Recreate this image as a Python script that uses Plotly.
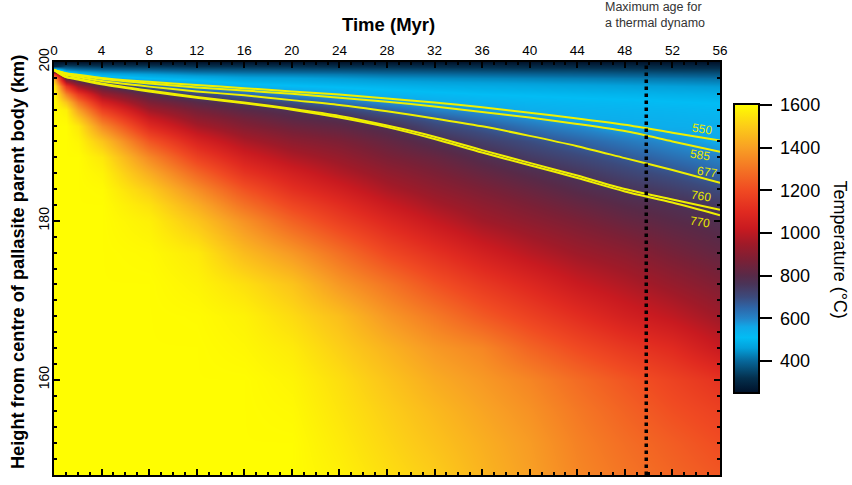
import plotly.graph_objects as go

# ---------------- data ----------------
time_myr = [0, 1, 2, 4, 8, 12, 16, 20, 24, 28, 32, 36, 40, 44, 48, 52, 56]
depth_km = [0, 0.5, 1, 1.5, 2, 3, 4, 5, 6, 7, 8, 10, 12, 14, 16, 18, 20,
            24, 28, 32, 36, 40, 44, 48, 52]
height_km = [200 - d for d in depth_km]

# temperature (deg C) columns, one per time, ordered by depth above
temp_t0 = [260, 300, 600, 1150, 1420, 1575] + [1600] * 19
temp_t1 = [260, 350, 450, 610, 806, 1142, 1335, 1482, 1572, 1589, 1600] + [1600] * 14
temp_t2 = [260, 340, 430, 520, 720, 950, 1152, 1301, 1409, 1492, 1557, 1586, 1600] + [1600] * 12
temp_t4 = [260, 330, 410, 480, 550, 800, 940, 1062, 1174, 1269, 1355, 1483, 1557, 1582, 1596] + [1600] * 10
temp_t8 = [260, 330, 400, 460, 510, 655, 797, 877, 955, 1029, 1097, 1229, 1347, 1430, 1499, 1546, 1574, 1594] + [1600] * 7
temp_t12 = [260, 320, 385, 440, 490, 565, 712, 800, 862, 912, 964, 1070, 1170, 1268, 1357, 1429, 1485, 1562, 1582, 1597] + [1600] * 5
temp_t16 = [260, 320, 380, 430, 470, 530, 648, 750, 806, 853, 890, 970, 1053, 1131, 1218, 1294, 1368, 1462, 1540, 1578, 1589, 1600, 1600, 1600, 1600]
temp_t20 = [260, 320, 375, 425, 465, 515, 585, 690, 770, 805, 842, 909, 978, 1052, 1116, 1188, 1257, 1384, 1481, 1530, 1563, 1583, 1593, 1600, 1600]
temp_t24 = [260, 315, 370, 420, 455, 505, 545, 630, 717, 779, 814, 875, 929, 983, 1047, 1111, 1168, 1291, 1383, 1469, 1506, 1538, 1551, 1564, 1576]
temp_t28 = [260, 315, 365, 410, 445, 495, 530, 585, 662, 721, 773, 826, 871, 921, 970, 1029, 1087, 1194, 1303, 1382, 1444, 1482, 1505, 1521, 1537]
temp_t32 = [260, 310, 360, 405, 440, 485, 520, 548, 605, 670, 709, 776, 832, 874, 916, 962, 1015, 1121, 1218, 1311, 1383, 1426, 1457, 1478, 1499]
temp_t36 = [260, 310, 355, 400, 435, 480, 510, 535, 575, 621, 673, 731, 783, 829, 872, 913, 951, 1053, 1148, 1237, 1342, 1385, 1412, 1434, 1447]
temp_t40 = [260, 305, 350, 395, 430, 475, 505, 528, 545, 585, 625, 694, 740, 788, 831, 871, 909, 993, 1087, 1172, 1263, 1339, 1367, 1389, 1399]
temp_t44 = [260, 305, 350, 390, 425, 470, 500, 522, 537, 548, 590, 657, 708, 753, 791, 832, 871, 945, 1024, 1111, 1200, 1281, 1311, 1331, 1343]
temp_t48 = [260, 305, 345, 385, 420, 465, 495, 518, 532, 542, 551, 620, 674, 717, 760, 797, 832, 909, 978, 1052, 1145, 1227, 1259, 1285, 1302]
temp_t52 = [260, 300, 340, 380, 415, 460, 490, 512, 528, 538, 545, 585, 636, 686, 731, 774, 802, 862, 929, 1005, 1100, 1177, 1211, 1245, 1265]
temp_t56 = [260, 300, 340, 375, 410, 455, 485, 507, 522, 533, 542, 552, 602, 649, 697, 745, 777, 822, 880, 944, 1022, 1127, 1171, 1204, 1230]

# isotherm contour lines: height (km) at each time in time_myr
iso_550 = [199.0, 198.6, 198.4, 198.0, 197.5, 197.1, 196.7, 196.3, 195.9, 195.4, 194.9, 194.3, 193.6, 192.9, 192.1, 191.1, 190.1]
iso_585 = [199.0, 198.55, 198.3, 197.9, 197.3, 196.8, 196.4, 196.0, 195.5, 195.0, 194.4, 193.7, 193.0, 192.2, 191.3, 190.0, 188.7]
iso_677 = [199.0, 198.4, 198.1, 197.6, 196.9, 196.3, 195.8, 195.2, 194.6, 193.8, 192.9, 191.9, 190.7, 189.4, 187.9, 186.4, 184.8]
iso_760 = [199.0, 198.15, 197.9, 197.3, 196.4, 195.6, 194.9, 194.1, 193.2, 192.0, 190.6, 188.9, 187.3, 185.7, 184.0, 182.7, 181.4]
iso_770 = [199.0, 198.1, 197.8, 197.2, 196.3, 195.5, 194.8, 194.0, 193.0, 191.8, 190.3, 188.6, 187.0, 185.4, 183.7, 182.3, 180.7]
iso_levels = ["550", "585", "677", "760", "770"]

dynamo_max_age = 49.8  # Myr

x_ticks = list(range(0, 57, 4))
y_ticks = [160, 180, 200]
cbar_ticks = [400, 600, 800, 1000, 1200, 1400, 1600]

# ---------------- styling ----------------
T_MIN, T_MAX = 250, 1605
color_stops = [
    (250, "#001028"), (320, "#04304e"), (400, "#07679a"), (460, "#03a0da"),
    (510, "#02bcf4"), (560, "#10a8e8"), (600, "#2484c8"), (650, "#2e66a8"),
    (700, "#3c4a7c"), (760, "#4a3458"), (800, "#582a48"), (870, "#7a2036"),
    (950, "#a01a28"), (1020, "#c81a20"), (1100, "#e02a20"), (1200, "#f04a22"),
    (1300, "#f47424"), (1400, "#f8a024"), (1500, "#fccc18"), (1605, "#ffff00"),
]
colorscale = [[(v - T_MIN) / (T_MAX - T_MIN), c] for v, c in color_stops]

columns = [temp_t0, temp_t1, temp_t2, temp_t4, temp_t8, temp_t12, temp_t16,
           temp_t20, temp_t24, temp_t28, temp_t32, temp_t36, temp_t40,
           temp_t44, temp_t48, temp_t52, temp_t56]
z = [list(row) for row in zip(*columns)]  # rows by height

FONT = "Arial, Liberation Sans, sans-serif"
W, H = 852, 485
L, R, T, B = 54, 132, 62, 8
PW, PH = W - L - R, H - T - B

def px_x(px):
    return (px - L) / PW

def px_y(py):
    return (H - B - py) / PH

fig = go.Figure()
fig.add_trace(go.Heatmap(
    x=time_myr, y=height_km, z=z, zsmooth="best",
    colorscale=colorscale, zmin=T_MIN, zmax=T_MAX,
    colorbar=dict(
        x=px_x(734), xanchor="left", xpad=0,
        y=px_y(249.5), yanchor="middle", ypad=0,
        len=289, lenmode="pixels", thickness=25,
        outlinewidth=2, outlinecolor="black",
        tickvals=cbar_ticks,
        ticktext=["\u00a0" + str(v) for v in cbar_ticks],
        ticks="outside", ticklen=12, tickwidth=2,
        tickcolor="black",
        tickfont=dict(family=FONT, size=18, color="black"),
    ),
    hoverinfo="skip",
))

for iso in [iso_550, iso_585, iso_677, iso_760, iso_770]:
    fig.add_trace(go.Scatter(
        x=time_myr, y=iso, mode="lines",
        line=dict(color="#f0f000", width=2, shape="spline", smoothing=0.8),
        showlegend=False, hoverinfo="skip",
    ))

fig.add_shape(type="line", xref="x", yref="paper", x0=dynamo_max_age,
              x1=dynamo_max_age, y0=0, y1=1,
              line=dict(color="black", width=3.5, dash="dot"))

label_pos = [(54.46, 191.6), (54.3, 188.3), (54.9, 186.1), (54.4, 183.1), (54.3, 179.9)]
for lev, (lx, ly) in zip(iso_levels, label_pos):
    fig.add_annotation(x=lx, y=ly, xref="x", yref="y", text=lev,
                       showarrow=False, textangle=9,
                       font=dict(family=FONT, size=12, color="#e8e800"))

fig.add_annotation(x=px_x(388), y=px_y(24), xref="paper", yref="paper",
                   xanchor="center", yanchor="middle",
                   text="<b>Time (Myr)</b>", showarrow=False,
                   font=dict(family=FONT, size=18.5, color="black"))
fig.add_annotation(x=px_x(18), y=px_y(263), xref="paper", yref="paper",
                   xanchor="center", yanchor="middle",
                   text="<b>Height from centre of pallasite parent body (km)</b>",
                   showarrow=False, textangle=-90,
                   font=dict(family=FONT, size=18.2, color="black"))
fig.add_annotation(x=px_x(603), y=px_y(15), xref="paper", yref="paper",
                   xanchor="left", yanchor="middle", align="left",
                   text="Maximum age for<br>a thermal dynamo", showarrow=False,
                   font=dict(family=FONT, size=12.5, color="#333333"))
fig.add_annotation(x=px_x(840), y=px_y(250.5), xref="paper", yref="paper",
                   xanchor="center", yanchor="middle",
                   text="Temperature (°C)", showarrow=False, textangle=90,
                   font=dict(family=FONT, size=18, color="black"))

axis_common = dict(
    showline=True, linewidth=2, linecolor="black", mirror="allticks",
    ticks="inside", ticklen=6, tickwidth=2, tickcolor="black",
    showgrid=False, zeroline=False,
)
fig.update_xaxes(side="top", range=[0, 56], tickvals=x_ticks,
                 tickfont=dict(family=FONT, size=13.5, color="black"),
                 minor=dict(dtick=1, ticks="inside", ticklen=3, tickwidth=1.5,
                            tickcolor="black", showgrid=False),
                 **axis_common)
fig.update_yaxes(range=[148, 200], tickvals=y_ticks, tickangle=-90,
                 tickfont=dict(family=FONT, size=14, color="black"),
                 ticklabelstandoff=-3,
                 minor=dict(dtick=2, tick0=0, ticks="inside", ticklen=3,
                            tickwidth=1.5, tickcolor="black", showgrid=False),
                 **axis_common)

fig.update_layout(
    width=W, height=H,
    margin=dict(l=L, r=R, t=T, b=B, pad=0),
    paper_bgcolor="white", plot_bgcolor="white",
    showlegend=False,
    font=dict(family=FONT),
)

fig.write_html("out.html")
